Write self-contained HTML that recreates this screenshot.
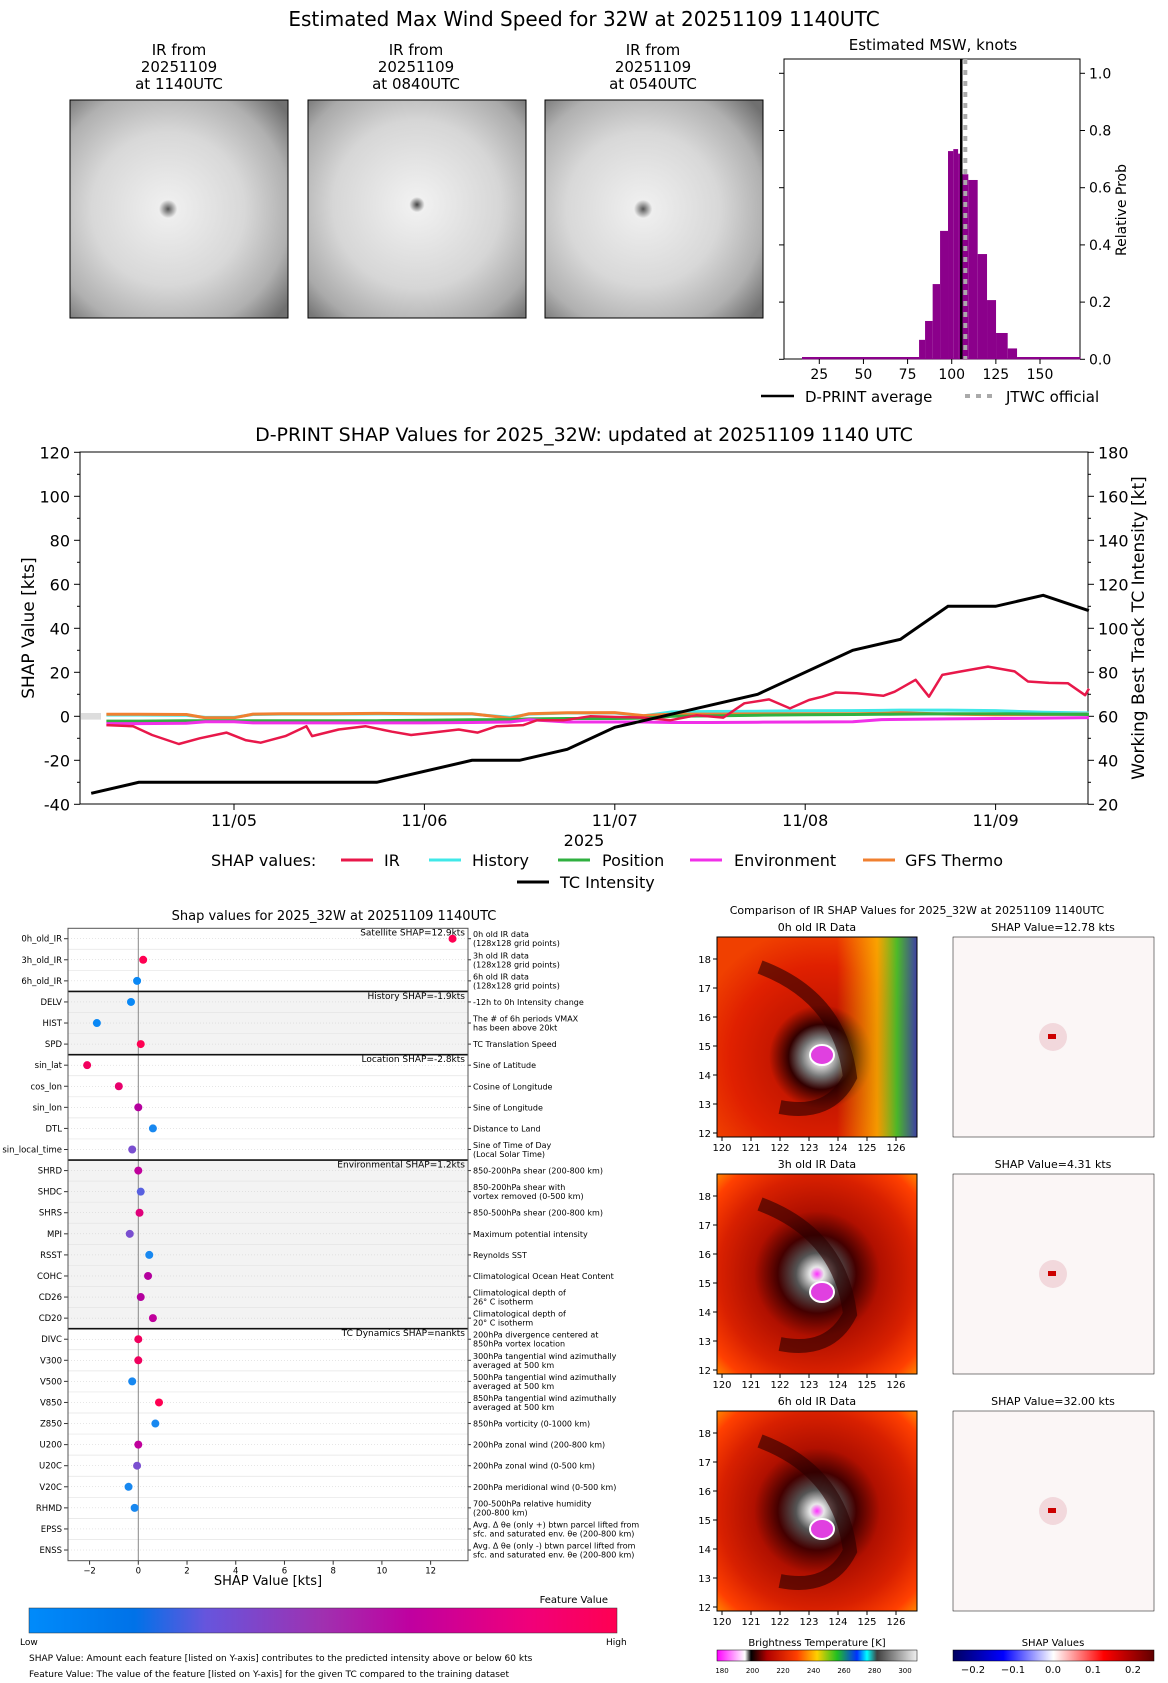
<!DOCTYPE html>
<html><head><meta charset="utf-8">
<style>
html,body{margin:0;padding:0;background:#fff;}
svg{display:block;font-family:"DejaVu Sans","Liberation Sans",sans-serif;}
</style></head>
<body>
<svg id="root" width="1168" height="1683" viewBox="0 0 1168 1683" xmlns="http://www.w3.org/2000/svg">
<defs>
<radialGradient id="gIR1" cx="45%" cy="50%" r="70%">
<stop offset="0" stop-color="#555"/><stop offset="0.06" stop-color="#eee"/><stop offset="0.5" stop-color="#d8d8d8"/><stop offset="0.8" stop-color="#b0b0b0"/><stop offset="1" stop-color="#707070"/>
</radialGradient>
<radialGradient id="gIR2" cx="50%" cy="48%" r="70%">
<stop offset="0" stop-color="#444"/><stop offset="0.05" stop-color="#f0f0f0"/><stop offset="0.55" stop-color="#d6d6d6"/><stop offset="0.85" stop-color="#aaa"/><stop offset="1" stop-color="#777"/>
</radialGradient>
<radialGradient id="gCol" cx="52%" cy="60%" r="65%">
<stop offset="0" stop-color="#ff30ff"/><stop offset="0.05" stop-color="#f0f0f0"/><stop offset="0.15" stop-color="#777"/><stop offset="0.25" stop-color="#300"/><stop offset="0.4" stop-color="#c81800"/><stop offset="0.7" stop-color="#e02000"/><stop offset="1" stop-color="#f04000"/>
</radialGradient>
<linearGradient id="gRight" x1="0" x2="1">
<stop offset="0.6" stop-color="#ffd000" stop-opacity="0"/><stop offset="0.8" stop-color="#ffd000" stop-opacity="0.8"/><stop offset="0.9" stop-color="#30d030"/><stop offset="1" stop-color="#2040c0"/>
</linearGradient>
<radialGradient id="gCol2" cx="50%" cy="50%" r="70%">
<stop offset="0" stop-color="#ff30ff"/><stop offset="0.05" stop-color="#e8e8e8"/><stop offset="0.15" stop-color="#555"/><stop offset="0.28" stop-color="#400"/><stop offset="0.45" stop-color="#b01000"/><stop offset="0.7" stop-color="#d82000"/><stop offset="0.9" stop-color="#ff4000"/><stop offset="1" stop-color="#ff8000"/>
</radialGradient>
<linearGradient id="gFeat" x1="0" x2="1">
<stop offset="0" stop-color="#008bfb"/><stop offset="0.18" stop-color="#0072e8"/><stop offset="0.3" stop-color="#6655dd"/><stop offset="0.5" stop-color="#a030b0"/><stop offset="0.65" stop-color="#c000a0"/><stop offset="0.85" stop-color="#f0007a"/><stop offset="1" stop-color="#ff0052"/>
</linearGradient>
<linearGradient id="gBT" x1="0" x2="1">
<stop offset="0" stop-color="#ff00ff"/><stop offset="0.14" stop-color="#fff"/><stop offset="0.17" stop-color="#000"/><stop offset="0.25" stop-color="#b00000"/><stop offset="0.4" stop-color="#ff4000"/><stop offset="0.5" stop-color="#ffd000"/><stop offset="0.6" stop-color="#20c020"/><stop offset="0.7" stop-color="#0030ff"/><stop offset="0.75" stop-color="#00ffff"/><stop offset="0.8" stop-color="#404040"/><stop offset="1" stop-color="#f0f0f0"/>
</linearGradient>
<linearGradient id="gSH" x1="0" x2="1">
<stop offset="0" stop-color="#000060"/><stop offset="0.25" stop-color="#0000ff"/><stop offset="0.5" stop-color="#ffffff"/><stop offset="0.75" stop-color="#ff0000"/><stop offset="1" stop-color="#600000"/>
</linearGradient>
</defs>

<text x="584" y="26" font-size="20" text-anchor="middle">Estimated Max Wind Speed for 32W at 20251109 1140UTC</text>

<g>
<text x="179" y="55" font-size="15" text-anchor="middle">IR from</text>
<text x="179" y="72" font-size="15" text-anchor="middle">20251109</text>
<text x="179" y="89" font-size="15" text-anchor="middle">at 1140UTC</text>
<rect x="70" y="100" width="218" height="218" fill="url(#gIR1)" stroke="#000"/>
</g>
<g>
<text x="416" y="55" font-size="15" text-anchor="middle">IR from</text>
<text x="416" y="72" font-size="15" text-anchor="middle">20251109</text>
<text x="416" y="89" font-size="15" text-anchor="middle">at 0840UTC</text>
<rect x="308" y="100" width="218" height="218" fill="url(#gIR2)" stroke="#000"/>
</g>
<g>
<text x="653" y="55" font-size="15" text-anchor="middle">IR from</text>
<text x="653" y="72" font-size="15" text-anchor="middle">20251109</text>
<text x="653" y="89" font-size="15" text-anchor="middle">at 0540UTC</text>
<rect x="545" y="100" width="218" height="218" fill="url(#gIR1)" stroke="#000"/>
</g>

<g id="hist">
<text x="933" y="50" font-size="15" text-anchor="middle">Estimated MSW, knots</text>
<rect x="784" y="59" width="296" height="300" fill="none" stroke="#000"/>
<text transform="translate(1126,210) rotate(-90)" font-size="14" text-anchor="middle">Relative Prob</text>
<line x1="761" y1="396" x2="794" y2="396" stroke="#000" stroke-width="2.5"/>
<text x="805" y="402" font-size="15">D-PRINT average</text>
<line x1="965" y1="396" x2="997" y2="396" stroke="#aaa" stroke-width="4" stroke-dasharray="5,6"/>
<text x="1006" y="402" font-size="15">JTWC official</text>
</g>

<g id="mid">
<text x="584" y="441" font-size="19" text-anchor="middle">D-PRINT SHAP Values for 2025_32W: updated at 20251109 1140 UTC</text>
<rect x="80" y="452" width="1008" height="352" fill="none" stroke="#000"/>
<text transform="translate(34,628) rotate(-90)" font-size="17" text-anchor="middle">SHAP Value [kts]</text>
<text transform="translate(1144,628) rotate(-90)" font-size="17" text-anchor="middle">Working Best Track TC Intensity [kt]</text>
<text x="584" y="846" font-size="16" text-anchor="middle">2025</text>
<text x="211" y="866" font-size="16">SHAP values:</text>
</g>

<g id="bees">
<text x="334" y="920" font-size="13" text-anchor="middle">Shap values for 2025_32W at 20251109 1140UTC</text>
<text x="268" y="1585" font-size="13" text-anchor="middle">SHAP Value [kts]</text>
<rect x="29" y="1608" width="588" height="25" fill="url(#gFeat)" stroke="#333" stroke-width="0.5"/>
<text x="608" y="1603" font-size="10" text-anchor="end">Feature Value</text>
<text x="20" y="1645" font-size="9">Low</text>
<text x="606" y="1645" font-size="9">High</text>
<text x="29" y="1661" font-size="9">SHAP Value: Amount each feature [listed on Y-axis] contributes to the predicted intensity above or below 60 kts</text>
<text x="29" y="1677" font-size="9">Feature Value: The value of the feature [listed on Y-axis] for the given TC compared to the training dataset</text>
</g>

<g id="cmp">
<text x="917" y="914" font-size="11" text-anchor="middle">Comparison of IR SHAP Values for 2025_32W at 20251109 1140UTC</text>
<rect x="717" y="1650" width="200" height="11" fill="url(#gBT)" stroke="#000" stroke-width="0.5"/>
<text x="817" y="1646" font-size="10" text-anchor="middle">Brightness Temperature [K]</text>
<rect x="953" y="1650" width="201" height="11" fill="url(#gSH)" stroke="#000" stroke-width="0.5"/>
<text x="1053" y="1646" font-size="10" text-anchor="middle">SHAP Values</text>
</g>
</svg>

<script>
const NS='http://www.w3.org/2000/svg';
function mk(parent,tag,attrs){const e=document.createElementNS(NS,tag);for(const k in attrs)e.setAttribute(k,attrs[k]);parent.appendChild(e);return e;}
function txt(parent,x,y,s,size,anchor){const t=mk(parent,'text',{x:x,y:y,'font-size':size,'text-anchor':anchor||'middle'});t.textContent=s;return t;}

const binEdges=[15.2,81.5,84.9,89.2,93.4,97.9,100.9,103.6,105.4,109.4,114.7,120,125.1,131.7,137,173];
const binProbs=[0.008,0.068,0.134,0.263,0.449,0.728,0.735,0.719,0.647,0.627,0.368,0.207,0.092,0.038,0.008];
const dprintAvg=105.4;
const jtwcOfficial=107.7;
const histXTicks=[25,50,75,100,125,150];
const histYTicks=[0,0.2,0.4,0.6,0.8,1.0];

const tcTimes=[-0.75,-0.5,0.75,1.25,1.5,1.75,2.0,2.75,3.25,3.5,3.75,4.0,4.25,4.49];
const tcIntensity=[25,30,30,40,40,45,55,70,90,95,110,110,115,108];
const irTimes=[-0.67,-0.53,-0.43,-0.29,-0.18,-0.04,0.06,0.14,0.27,0.38,0.41,0.55,0.69,0.83,0.93,1.04,1.18,1.28,1.38,1.52,1.59,1.73,1.87,2.01,2.15,2.29,2.43,2.57,2.68,2.81,2.92,3.02,3.09,3.16,3.27,3.41,3.47,3.58,3.65,3.72,3.82,3.96,4.10,4.17,4.28,4.38,4.47,4.49];
const irShap=[-4,-4.5,-8.5,-12.6,-10,-7.4,-10.8,-12,-9,-4.5,-9,-6,-4.5,-7,-8.5,-7.4,-6,-7.4,-4.5,-4,-1.8,-1.8,0,-0.3,-0.6,-1.8,0.5,-0.6,5.9,7.7,3.6,7.4,8.9,10.8,10.5,9.3,11.2,16.6,8.9,18.8,20.4,22.6,20.4,15.8,15.2,15,9.6,12.6];
const subTimes=[-0.67,-0.5,-0.25,-0.15,0.0,0.1,0.25,0.5,0.75,1.0,1.25,1.45,1.55,1.75,2.0,2.15,2.3,2.5,2.75,3.0,3.25,3.4,3.5,3.75,4.0,4.25,4.49];
const historyShap=[0.6,0.6,0.5,-0.5,-0.5,0.8,1.0,1.0,1.1,1.0,1.0,-0.5,1.0,1.5,1.5,0.2,2.0,2.2,2.3,2.5,2.6,2.7,2.8,2.8,2.6,1.8,1.5];
const positionShap=[-2.2,-2.2,-2.0,-2.0,-2.0,-2.0,-2.0,-2.0,-2.0,-1.8,-1.6,-1.5,-1.2,-1.0,-1.0,-0.8,0.0,0.2,0.5,0.7,0.8,0.9,1.0,1.2,1.2,1.0,0.8];
const environmentShap=[-3.3,-3.3,-3.2,-2.5,-2.5,-3.0,-3.0,-3.0,-3.0,-3.0,-2.8,-2.6,-1.5,-2.6,-2.6,-2.6,-2.8,-2.8,-2.7,-2.6,-2.5,-1.5,-1.4,-1.2,-1.0,-0.8,-0.6];
const gfsShap=[0.9,0.9,0.8,-0.7,-0.7,1.0,1.2,1.2,1.3,1.2,1.2,-0.9,1.2,1.6,1.7,0.3,1.0,1.0,1.1,1.2,1.2,1.3,1.6,1.0,0.7,0.8,1.0];
const leftTicks=[-40,-20,0,20,40,60,80,100,120];
const rightTicks=[20,40,60,80,100,120,140,160,180];
const dateTicks=[0,1,2,3,4];
const dateLabels=['11/05','11/06','11/07','11/08','11/09'];

const features=['0h_old_IR','3h_old_IR','6h_old_IR','DELV','HIST','SPD','sin_lat','cos_lon','sin_lon','DTL','sin_local_time','SHRD','SHDC','SHRS','MPI','RSST','COHC','CD26','CD20','DIVC','V300','V500','V850','Z850','U200','U20C','V20C','RHMD','EPSS','ENSS'];
const featureShap=[12.9,0.2,-0.05,-0.3,-1.7,0.1,-2.1,-0.8,0.0,0.6,-0.25,0.0,0.1,0.05,-0.35,0.45,0.4,0.1,0.6,0.0,0.0,-0.25,0.85,0.7,0.0,-0.05,-0.4,-0.15,null,null];
const featureColor=['#ff0052','#ff0052','#0a88f5','#0a88f5','#0a88f5','#ff0052','#f2005e','#e8006c','#b4009e','#1888f0','#7a4fd0','#c0009c','#5860e0','#e0007a','#7a4fd0','#1888f0','#b4009e','#b4009e','#c0009c','#f0005e','#f0005e','#1888f0','#ff0052','#1888f0','#c0009c','#7a4fd0','#1888f0','#1888f0',null,null];
const featureDesc=[['0h old IR data','(128x128 grid points)'],['3h old IR data','(128x128 grid points)'],['6h old IR data','(128x128 grid points)'],['-12h to 0h Intensity change'],['The # of 6h periods VMAX','has been above 20kt'],['TC Translation Speed'],['Sine of Latitude'],['Cosine of Longitude'],['Sine of Longitude'],['Distance to Land'],['Sine of Time of Day','(Local Solar Time)'],['850-200hPa shear (200-800 km)'],['850-200hPa shear with','vortex removed (0-500 km)'],['850-500hPa shear (200-800 km)'],['Maximum potential intensity'],['Reynolds SST'],['Climatological Ocean Heat Content'],['Climatological depth of','26° C isotherm'],['Climatological depth of','20° C isotherm'],['200hPa divergence centered at','850hPa vortex location'],['300hPa tangential wind azimuthally','averaged at 500 km'],['500hPa tangential wind azimuthally','averaged at 500 km'],['850hPa tangential wind azimuthally','averaged at 500 km'],['850hPa vorticity (0-1000 km)'],['200hPa zonal wind (200-800 km)'],['200hPa zonal wind (0-500 km)'],['200hPa meridional wind (0-500 km)'],['700-500hPa relative humidity','(200-800 km)'],['Avg. Δ θe (only +) btwn parcel lifted from','sfc. and saturated env. θe (200-800 km)'],['Avg. Δ θe (only -) btwn parcel lifted from','sfc. and saturated env. θe (200-800 km)']];
const groupStarts=[0,3,6,11,19];
const groupLabels=['Satellite SHAP=12.9kts','History SHAP=-1.9kts','Location SHAP=-2.8kts','Environmental SHAP=1.2kts','TC Dynamics SHAP=nankts'];
const beeTicks=[-2,0,2,4,6,8,10,12];

const cmpTitles=['0h old IR Data','3h old IR Data','6h old IR Data'];
const cmpShap=['SHAP Value=12.78 kts','SHAP Value=4.31 kts','SHAP Value=32.00 kts'];
const latTicks=[12,13,14,15,16,17,18];
const lonTicks=[120,121,122,123,124,125,126];
const btTicks=[180,200,220,240,260,280,300];
const shTicks=[-0.2,-0.1,0.0,0.1,0.2];

(function(){
const g=document.getElementById('hist');
const hx=v=>819.3+(v-25)*1.7656, hy=p=>359.3-p*286;
for(let i=0;i<binProbs.length;i++){
  const r=mk(g,'rect',{x:hx(binEdges[i]),y:hy(binProbs[i]),width:hx(binEdges[i+1])-hx(binEdges[i]),height:359.3-hy(binProbs[i]),fill:'#8b008b'});
  
  
}
const l1=mk(g,'line',{x1:hx(dprintAvg),x2:hx(dprintAvg),y1:59,y2:359,stroke:'#000','stroke-width':2.5});


const l2=mk(g,'line',{x1:hx(jtwcOfficial),x2:hx(jtwcOfficial),y1:59,y2:359,stroke:'#aaa','stroke-width':4,'stroke-dasharray':'5,6'});


histXTicks.forEach(v=>{mk(g,'line',{x1:hx(v),x2:hx(v),y1:359,y2:364,stroke:'#000'});txt(g,hx(v),379,String(v),14);});
histYTicks.forEach(p=>{mk(g,'line',{x1:784,x2:779,y1:hy(p),y2:hy(p),stroke:'#000'});mk(g,'line',{x1:1080,x2:1085,y1:hy(p),y2:hy(p),stroke:'#000'});txt(g,1089,hy(p)+5,p.toFixed(1),14,'start');});
})();

(function(){
const g=document.getElementById('mid');
const mx=t=>234+t*190.4, myL=v=>716.3-v*2.2, myR=k=>myL(k-60);
mk(g,'rect',{x:81,y:myL(1.5),width:20,height:myL(-1.5)-myL(1.5),fill:'#ddd'});
leftTicks.forEach(v=>{mk(g,'line',{x1:80,x2:74,y1:myL(v),y2:myL(v),stroke:'#000'});txt(g,70,myL(v)+6,String(v),16,'end');});
for(let v=-30;v<=110;v+=20){mk(g,'line',{x1:80,x2:77,y1:myL(v),y2:myL(v),stroke:'#000'});}
rightTicks.forEach(k=>{mk(g,'line',{x1:1088,x2:1094,y1:myR(k),y2:myR(k),stroke:'#000'});txt(g,1098,myR(k)+6,String(k),16,'start');});
for(let k=30;k<=170;k+=20){mk(g,'line',{x1:1088,x2:1091,y1:myR(k),y2:myR(k),stroke:'#000'});}
dateTicks.forEach((d,i)=>{mk(g,'line',{x1:mx(d),x2:mx(d),y1:804,y2:810,stroke:'#000'});txt(g,mx(d),826,dateLabels[i],16);});
function series(times,vals,color,w,name){
  const p=times.map((t,i)=>mx(t).toFixed(1)+','+myL(vals[i]).toFixed(1)).join(' ');
  const e=mk(g,'polyline',{points:p,fill:'none',stroke:color,'stroke-width':w,'stroke-linejoin':'round'});
  
  
}
series(subTimes,historyShap,'#40e8e8',3,'history-line');
series(subTimes,gfsShap,'#f08030',3,'gfs-thermo-line');
series(subTimes,positionShap,'#30b040',3,'position-line');
series(subTimes,environmentShap,'#f030e8',3,'environment-line');
series(irTimes,irShap,'#e8184a',2.5,'ir-line');
const p=tcTimes.map((t,i)=>mx(t).toFixed(1)+','+myR(tcIntensity[i]).toFixed(1)).join(' ');
const tc=mk(g,'polyline',{points:p,fill:'none',stroke:'#000','stroke-width':3});


const leg=[['IR','#e8184a',341,384],['History','#40e8e8',429,472],['Position','#30b040',558,602],['Environment','#f030e8',690,734],['GFS Thermo','#f08030',863,905]];
leg.forEach(l=>{const e=mk(g,'line',{x1:l[2],x2:l[2]+32,y1:860,y2:860,stroke:l[1],'stroke-width':3});txt(g,l[3],866,l[0],16,'start');});
mk(g,'line',{x1:517,x2:549,y1:882,y2:882,stroke:'#000','stroke-width':3});
txt(g,560,888,'TC Intensity',16,'start');
})();

(function(){
const g=document.getElementById('bees');
const bx=v=>138.3+v*24.36, ry=i=>938.7+i*21.08;
const top=928.3, bot=1560.7;
const shaded=[[3,6],[11,19]];
shaded.forEach(s=>mk(g,'rect',{x:68,y:ry(s[0])-10.54,width:400,height:(s[1]-s[0])*21.08,fill:'#f3f3f3'}));
features.forEach((f,i)=>{
  mk(g,'line',{x1:68,x2:468,y1:ry(i),y2:ry(i),stroke:'#ccc','stroke-width':0.5,'stroke-dasharray':'1,2'});
  if(i>0) mk(g,'line',{x1:68,x2:468,y1:ry(i)-10.54,y2:ry(i)-10.54,stroke:'#e4e4e4','stroke-width':0.7});
  mk(g,'line',{x1:68,x2:64,y1:ry(i),y2:ry(i),stroke:'#333'});
  mk(g,'line',{x1:468,x2:471,y1:ry(i),y2:ry(i),stroke:'#333'});
  const t=txt(g,62,ry(i)+3,f,8.5,'end');
  
  
  const d=featureDesc[i];
  if(d.length===1) txt(g,473,ry(i)+3,d[0],8,'start');
  else {txt(g,473,ry(i)-1.5,d[0],8,'start');txt(g,473,ry(i)+7.5,d[1],8,'start');}
});
mk(g,'line',{x1:bx(0),x2:bx(0),y1:top,y2:bot,stroke:'#888','stroke-width':1});
groupStarts.forEach((s,k)=>{
  if(s>0) mk(g,'line',{x1:68,x2:468,y1:ry(s)-10.54,y2:ry(s)-10.54,stroke:'#111','stroke-width':1.6});
  txt(g,465,ry(s)-3,groupLabels[k],9,'end');
});
featureShap.forEach((v,i)=>{
  if(v===null) return;
  const c=mk(g,'circle',{cx:bx(v),cy:ry(i),r:4,fill:featureColor[i]});
  
  
});
mk(g,'rect',{x:68,y:top,width:400,height:bot-top,fill:'none',stroke:'#555','stroke-width':1});
beeTicks.forEach(v=>{mk(g,'line',{x1:bx(v),x2:bx(v),y1:bot,y2:bot+4,stroke:'#333'});txt(g,bx(v),bot+13,v<0?'\u2212'+(-v):String(v),8.5);});
})();

(function(){
const g=document.getElementById('cmp');
const rowsY=[937,1174,1411];
rowsY.forEach((y0,r)=>{
  txt(g,817,y0-6,cmpTitles[r],11);
  txt(g,1053,y0-6,cmpShap[r],11);
  const im=mk(g,'rect',{x:717,y:y0,width:200,height:200,fill:r===0?'url(#gCol)':'url(#gCol2)',stroke:'#000'});
  
  
  if(r===0) mk(g,'rect',{x:717,y:y0,width:200,height:200,fill:'url(#gRight)',opacity:0.85});
  mk(g,'ellipse',{cx:822,cy:y0+118,rx:12,ry:10,fill:'#e040e0',stroke:'#fff','stroke-width':2});
  mk(g,'path',{d:`M760 ${y0+30} Q840 ${y0+60} 850 ${y0+140} Q830 ${y0+180} 780 ${y0+170}`,fill:'none',stroke:'#2a0000','stroke-width':14,opacity:0.6});
  mk(g,'rect',{x:717,y:y0,width:200,height:200,fill:'none',stroke:'#000'});
  const sm=mk(g,'rect',{x:953,y:y0,width:201,height:200,fill:'#fbf6f6',stroke:'#000','stroke-width':0.5});
  
  
  mk(g,'circle',{cx:1053,cy:y0+100,r:14,fill:'#f2d8dc'});
  mk(g,'rect',{x:1048,y:y0+97,width:8,height:5,fill:'#c00'});
  latTicks.forEach((v,i)=>{const yy=y0+196-i*29;mk(g,'line',{x1:717,x2:713,y1:yy,y2:yy,stroke:'#000'});txt(g,711,yy+4,String(v),10,'end');});
  lonTicks.forEach((v,i)=>{const xx=722+i*29;mk(g,'line',{x1:xx,x2:xx,y1:y0+200,y2:y0+204,stroke:'#000'});txt(g,xx,y0+214,String(v),10);});
});
btTicks.forEach((v,i)=>txt(g,722+i*30.5,1673,String(v),7));
shTicks.forEach((v,i)=>txt(g,973+i*40,1673,(v<0?'\u2212':'')+Math.abs(v).toFixed(1),10));
})();
</script>
</body></html>
